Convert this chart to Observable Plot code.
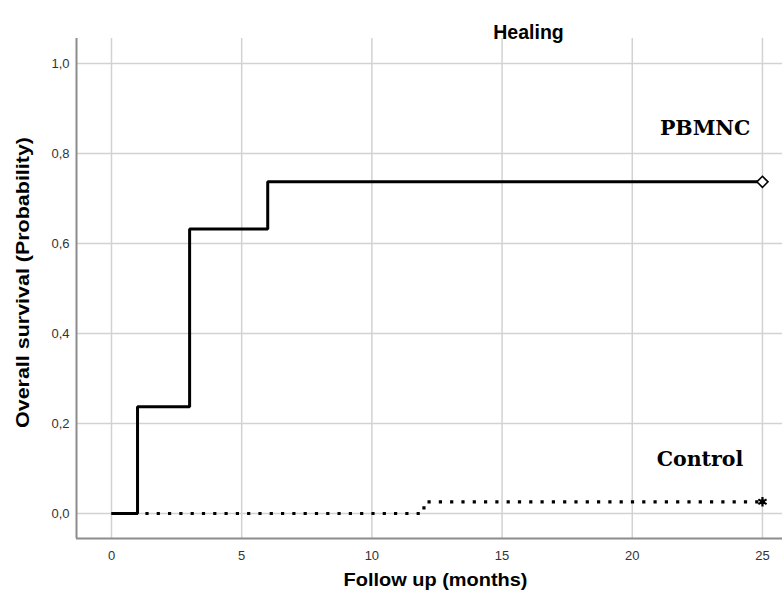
<!DOCTYPE html>
<html>
<head>
<meta charset="utf-8">
<script src="https://cdn.jsdelivr.net/npm/d3@7"></script>
<script src="https://cdn.jsdelivr.net/npm/@observablehq/plot@0.6"></script>
<style>
  html, body { margin: 0; padding: 0; background: #fff; }
</style>
</head>
<body>
<div id="chart"></div>
<script>
// Data
const pbmncTime = [0, 1, 3, 6, 25];
const pbmncSurv = [0, 0.237, 0.632, 0.737, 0.737];
const controlTime = [0, 12, 25];
const controlSurv = [0, 0.026, 0.026];
const xTicks = [0, 5, 10, 15, 20, 25];
const yTicks = [0, 0.2, 0.4, 0.6, 0.8, 1.0];
const groupNames = ["PBMNC", "Control"];
const labelX = [22.8, 22.6];
const labelY = [0.856, 0.12];
const titleText = "Healing";
const xLabel = "Follow up (months)";
const yLabel = "Overall survival (Probability)";

const xDomain = [-1.344, 25.77];
const yDomain = [-0.0556, 1.0556];

const pbmnc = pbmncTime.map((t, i) => ({t, s: pbmncSurv[i]}));
const control = controlTime.map((t, i) => ({t, s: controlSurv[i]}));
const labels = groupNames.map((g, i) => ({g, x: labelX[i], y: labelY[i]}));

const fmt = d => d.toFixed(1).replace(".", ",");
const sans = "'Liberation Sans', Arial, sans-serif";

const chart = Plot.plot({
  width: 782,
  height: 599,
  marginLeft: 76,
  marginRight: 0,
  marginTop: 38,
  marginBottom: 61,
  style: {fontFamily: sans, background: "#fff", color: "#222"},
  x: {domain: xDomain, ticks: xTicks, tickFormat: d => String(d)},
  y: {domain: yDomain, ticks: yTicks, tickFormat: fmt},
  marks: [
    Plot.ruleX(xTicks, {stroke: "#d2d2d2", strokeWidth: 1.5}),
    Plot.ruleY(yTicks, {stroke: "#d2d2d2", strokeWidth: 1.5}),
    Plot.ruleX([xDomain[0]], {stroke: "#8c8c8c", strokeWidth: 2}),
    Plot.ruleY([yDomain[0]], {stroke: "#8c8c8c", strokeWidth: 2}),
    Plot.axisX({ticks: xTicks, tickFormat: d => String(d), tickSize: 0, tickPadding: 12, fontSize: 13, label: null, fill: "#333"}),
    Plot.axisY({ticks: yTicks, tickFormat: fmt, tickSize: 0, tickPadding: 7, fontSize: 13, label: null, fill: "#333"}),
    Plot.line(control, {x: "t", y: "s", curve: "step-after", stroke: "#000", strokeWidth: 3.2, strokeDasharray: "3.2 8.1", strokeLinecap: "butt"}),
    Plot.line(pbmnc, {x: "t", y: "s", curve: "step-after", stroke: "#000", strokeWidth: 3, strokeLinecap: "butt", strokeLinejoin: "miter"}),
    Plot.dot(pbmnc.slice(-1), {x: "t", y: "s", symbol: "diamond2", r: 5, fill: "#fff", stroke: "#000", strokeWidth: 1.6}),
    Plot.dot(control.slice(-1), {x: "t", y: "s", symbol: "asterisk", r: 4.5, stroke: "#000", strokeWidth: 2.2}),
    Plot.dot(control.slice(-1), {x: "t", y: "s", symbol: "circle", r: 2.5, fill: "#000"}),
    Plot.text(labels, {x: "x", y: "y", text: "g", fontFamily: "'DejaVu Serif', serif", fontWeight: "bold", fontSize: 20.5, fill: "#000"}),
    Plot.text([titleText], {frameAnchor: "top", dx: 99, dy: -13, fontFamily: sans, fontWeight: "bold", fontSize: 19.5, fill: "#000"}),
    Plot.text([xLabel], {frameAnchor: "bottom", dx: 6, dy: 47, fontFamily: sans, fontWeight: "bold", fontSize: 18, fill: "#000"}),
    Plot.text([yLabel], {frameAnchor: "left", rotate: -90, dx: -53, dy: -6, fontFamily: sans, fontWeight: "bold", fontSize: 18, fill: "#000"})
  ]
});
// stretch axis titles along their direction to the reference lengths
const fit = {[xLabel]: 184, [yLabel]: 291};
chart.querySelectorAll("text").forEach(t => {
  const w = fit[t.textContent];
  if (w) {
    const x0 = parseFloat(t.getAttribute("x") || "0");
    t.setAttribute("x", x0 - w / 2);
    t.setAttribute("text-anchor", "start");
    t.setAttribute("textLength", w);
    t.setAttribute("lengthAdjust", "spacingAndGlyphs");
  }
});
document.getElementById("chart").appendChild(chart);
</script>
</body>
</html>
